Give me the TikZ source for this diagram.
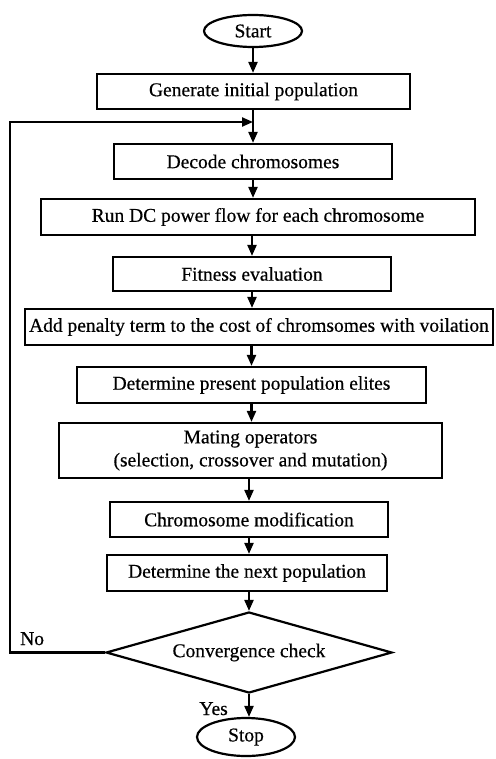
\documentclass[tikz,border=0pt]{standalone}
\usepackage{fontspec}
\setmainfont{Liberation Serif}
\newfontfamily\diagfont{Liberation Serif}[FakeBold=0.5]
\usetikzlibrary{shapes.geometric,arrows.meta}
\tikzset{
  txt/.style={font=\diagfont\fontsize{19.5}{23}\selectfont},
  procbox/.style={draw, line width=2.2pt, rectangle, inner sep=0pt, align=center, txt},
  term/.style={draw, line width=2.2pt, ellipse, inner sep=0pt, txt},
  decision/.style={draw, line width=2.2pt, diamond, inner sep=0pt, aspect=3.5, txt},
  flow/.style={line width=2.2pt, -{Triangle[length=11pt,width=9pt]}},
  lbl/.style={txt, inner sep=0pt}
}
\begin{document}
\begin{tikzpicture}[x=1pt,y=-1pt]
\useasboundingbox (0,0) rectangle (495,759);
\node[term, minimum width=98pt, minimum height=32pt] (start) at (253,31) {Start};
\node[procbox, minimum width=313pt, minimum height=35pt] (gen) at (253.5,91.5) {Generate initial population};
\node[procbox, minimum width=278pt, minimum height=35pt] (dec) at (253,161.5) {Decode chromosomes};
\node[procbox, minimum width=434pt, minimum height=36pt] (rundc) at (258,217) {Run DC power flow for each chromosome};
\node[procbox, minimum width=278pt, minimum height=34pt] (fit) at (252,274) {Fitness evaluation};
\node[procbox, minimum width=468pt, minimum height=36pt] (pen) at (259,327) {Add penalty term to the cost of chromsomes with voilation};
\node[procbox, minimum width=349pt, minimum height=36pt] (elite) at (251.5,385) {Determine present population elites};
\node[procbox, minimum width=383pt, minimum height=55pt] (mate) at (250.5,450.5) {Mating operators\\(selection, crossover and mutation)};
\node[procbox, minimum width=278pt, minimum height=35pt] (chrom) at (249,519.5) {Chromosome modification};
\node[procbox, minimum width=280pt, minimum height=36pt] (next) at (247,573) {Determine the next population};
\node[decision, minimum width=286pt, minimum height=81pt] (conv) at (249,652.5) {Convergence check};
\node[term, minimum width=98pt, minimum height=38pt] (stop) at (246,737) {Stop};
\coordinate (join) at (253,122);
\coordinate (lc) at (10,652.5);
\coordinate (tc) at (10,122);
\draw[flow] (start.south) -- (start.south |- gen.north);
\draw[line width=2.2pt] (gen.south -| join) -- (join);
\draw[flow] (join) -- (join |- dec.north);
\draw[flow] (dec.south) -- (dec.south |- rundc.north);
\draw[flow] (rundc.south -| fit.north) -- (fit.north);
\draw[flow] (fit.south) -- (fit.south |- pen.north);
\draw[flow] (pen.south -| elite.north) -- (elite.north);
\draw[flow] (elite.south) -- (elite.south |- mate.north);
\draw[flow] (mate.south -| chrom.north) -- (chrom.north);
\draw[flow] (chrom.south) -- (chrom.south |- next.north);
\draw[flow] (next.south -| conv.north) -- (conv.north);
\draw[flow] (conv.south) -- (conv.south |- stop.north);
\draw[flow] (conv.west) -- (lc) -- (tc) -- (join);
\node[lbl, anchor=base west] (no) at (20,645) {No};
\node[lbl, anchor=base east] (yes) at (228,715) {Yes};
\end{tikzpicture}
\end{document}
